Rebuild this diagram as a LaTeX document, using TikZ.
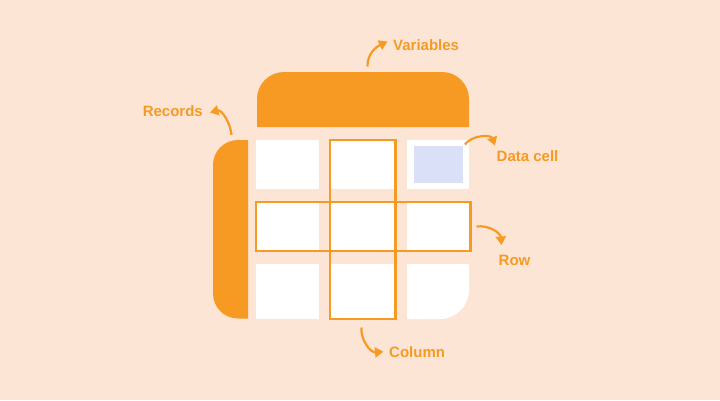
\documentclass[tikz,border=0pt]{standalone}
\usepackage{fontspec}
\setmainfont{Liberation Sans}
\usetikzlibrary{arrows.meta,calc}
\definecolor{tblpeach}{HTML}{FCE5D5}
\definecolor{tblorange}{HTML}{F79A24}
\definecolor{tbllavender}{HTML}{DAE0F8}
\tikzstyle{cell} = [rectangle, fill=white, inner sep=0pt, anchor=south west]
\tikzstyle{outline} = [draw=tblorange, line width=2.2pt]
\tikzstyle{callout} = [-{Triangle[length=8.5pt,width=10pt]}, line width=2.2pt, tblorange]
\tikzstyle{tag} = [inner sep=0pt, text=tblorange, font=\fontsize{15}{18}\selectfont\bfseries]

\begin{document}
\begin{tikzpicture}[x=1pt, y=1pt]
\fill[tblpeach] (0,0) rectangle (720,400);
\useasboundingbox (0,0) rectangle (720,400);

% header and side bar
\fill[tblorange] (257,273) -- (257,301) arc[start angle=180, end angle=90, radius=27]
    -- (442,328) arc[start angle=90, end angle=0, radius=27] -- (469,273) -- cycle;
\fill[tblorange] (248,81.5) -- (248,260) -- (238,260) arc[start angle=90, end angle=180, radius=25]
    -- (213,106.5) arc[start angle=180, end angle=270, radius=25] -- cycle;

% cells
\node[cell, minimum width=63pt, minimum height=49pt] (c11) at (256,211) {};
\node[cell, minimum width=65pt, minimum height=49pt] (c12) at (330,211) {};
\node[cell, minimum width=62pt, minimum height=49pt] (c13) at (407,211) {};
\node[cell, minimum width=63pt, minimum height=49pt] (c21) at (256,149) {};
\node[cell, minimum width=65pt, minimum height=49pt] (c22) at (330,149) {};
\node[cell, minimum width=62pt, minimum height=49pt] (c23) at (407,149) {};
\node[cell, minimum width=63pt, minimum height=55pt] (c31) at (256,81) {};
\node[cell, minimum width=65pt, minimum height=55pt] (c32) at (330,81) {};
\fill[white] (407,136) -- (407,81) -- (440,81) arc[start angle=-90, end angle=0, radius=29]
    -- (469,136) -- cycle;
\node[rectangle, fill=tbllavender, inner sep=0pt, minimum width=49pt, minimum height=37.5pt]
    (datacell) at (c13.center) {};

% column and row frames
\draw[outline] (c12.north west) rectangle (c32.south east);
\draw[outline] (c21.north west) rectangle ($(c23.south east)+(1,0)$);

% callouts
\coordinate (varfrom) at (367.5,333.5);
\coordinate (varto) at (387.5,358.5);
\coordinate (recfrom) at (231.5,265);
\coordinate (recto) at (210,287.5);
\coordinate (cellfrom) at (465,255.5);
\coordinate (cellto) at (495,254.5);
\coordinate (rowfrom) at (476.5,173.5);
\coordinate (rowto) at (501.5,155);
\coordinate (colfrom) at (361.5,72.5);
\coordinate (colto) at (383.5,48.3);

\draw[callout] (varfrom) to[out=92, in=205] (varto);
\draw[callout] (recfrom) to[out=95, in=15] (recto);
\draw[callout] (cellfrom) to[out=55, in=110] (cellto);
\draw[callout] (rowfrom) to[out=8, in=95] (rowto);
\draw[callout] (colfrom) to[out=-95, in=185] (colto);

\node[tag, anchor=west] (variables) at (393,355) {Variables};
\node[tag, anchor=east] (records) at (203,289.3) {Records};
\node[tag, anchor=west] (datalabel) at (496.5,244.3) {Data cell};
\node[tag, anchor=west] (rowlabel) at (498.5,140) {Row};
\node[tag, anchor=west] (columnlabel) at (389,48.3) {Column};
\end{tikzpicture}
\end{document}
